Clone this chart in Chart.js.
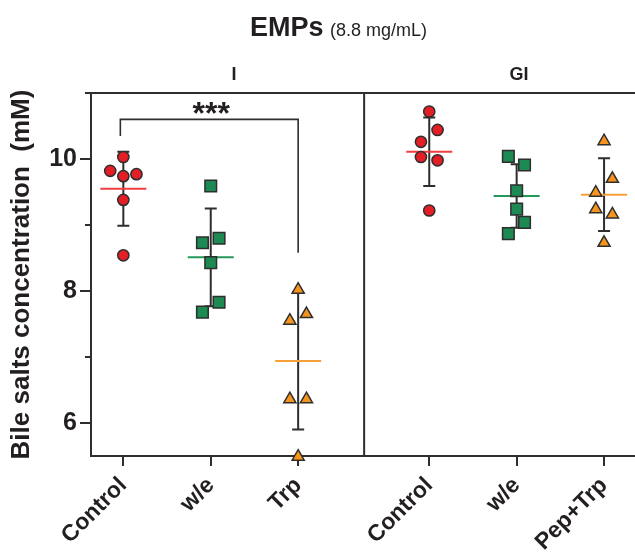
<!DOCTYPE html>
<html>
<head>
<meta charset="utf-8">
<script src="https://cdn.jsdelivr.net/npm/chart.js@4.4.1/dist/chart.umd.min.js"></script>
<style>
  html, body { margin: 0; padding: 0; background: #fff; }
  canvas { display: block; }
</style>
</head>
<body>
<canvas id="emp" width="635" height="554"></canvas>
<script>
/* ── data ─────────────────────────────────────────────── */
const groupLabels = ['Control', 'w/e', 'Trp', 'Control', 'w/e', 'Pep+Trp'];
const groupPos    = [0, 1, 2, 3.5, 4.5, 5.5];
const sections    = ['I', 'GI'];

// bile salts, mM — one value per replicate
const iControl  = [10.03, 9.82, 9.74, 9.77, 9.38, 8.54];
const iWe       = [9.59, 8.80, 8.73, 8.43, 7.83, 7.68];
const iTrp      = [8.02, 7.55, 7.65, 6.36, 6.36, 5.49];
const giControl = [10.72, 10.44, 10.26, 10.03, 9.98, 9.22];
const giWe      = [10.04, 9.91, 9.52, 9.24, 9.04, 8.87];
const giPepTrp  = [10.27, 9.70, 9.49, 9.24, 9.16, 8.73];

// mean and SD bars
const means = [9.55, 8.51, 6.94, 10.11, 9.44, 9.46];
const sds   = [0.56, 0.74, 1.04, 0.52, 0.48, 0.55];

// horizontal spread of the replicates (category units)
const jitIControl  = [0, -0.15, 0, 0.15, 0, 0];
const jitIWe       = [0, 0.095, -0.095, 0, 0.095, -0.095];
const jitITrp      = [0, -0.095, 0.095, -0.095, 0.095, 0];
const jitGIControl = [0, 0.095, -0.095, -0.095, 0.095, 0];
const jitGIWe      = [-0.095, 0.09, 0, 0, 0.09, -0.095];
const jitGIPepTrp  = [0, 0.095, -0.095, -0.095, 0.095, 0];

const yTicks  = [6, 7, 8, 9, 10, 11];
const yMajors = [6, 8, 10];

/* ── styling ──────────────────────────────────────────── */
const INK  = '#2e2e2e';
const FONT = '"Liberation Sans", Arial, Helvetica, sans-serif';
const RED = '#e41e25', GREEN = '#1c8a52', ORANGE = '#f7941d';
const meanColors = ['#ef3e3e', '#25985c', '#f7a03a', '#ef3e3e', '#25985c', '#f7a03a'];
const DIVIDER = 2.755;

function pts(vals, jit, i) {
  return vals.map((v, k) => ({ x: groupPos[i] + jit[k], y: v }));
}

function series(vals, jit, i, style, color, r) {
  return {
    data: pts(vals, jit, i), pointStyle: style, pointRadius: r,
    backgroundColor: color, borderColor: INK, borderWidth: 1.5,
    showLine: false, clip: false,
  };
}

const datasets = [
  series(iControl,  jitIControl,  0, 'circle',   RED,    5.6),
  series(iWe,       jitIWe,       1, 'rect',     GREEN,  8.2),
  series(iTrp,      jitITrp,      2, 'triangle', ORANGE, 7.0),
  series(giControl, jitGIControl, 3, 'circle',   RED,    5.6),
  series(giWe,      jitGIWe,      4, 'rect',     GREEN,  8.2),
  series(giPepTrp,  jitGIPepTrp,  5, 'triangle', ORANGE, 7.0),
];

/* ── extras: frame, minor ticks, SD bars, means, titles, significance ── */
const decor = {
  id: 'decor',
  beforeDatasetsDraw(chart) {
    const { ctx, chartArea: a, scales: { x, y } } = chart;
    ctx.save();
    ctx.strokeStyle = INK; ctx.lineWidth = 2; ctx.lineCap = 'butt';
    ctx.beginPath();
    ctx.moveTo(a.left - 1, a.top); ctx.lineTo(chart.width, a.top);
    ctx.moveTo(a.right, a.bottom); ctx.lineTo(chart.width, a.bottom);
    const dx = x.getPixelForValue(DIVIDER);
    ctx.moveTo(dx, a.top); ctx.lineTo(dx, a.bottom);
    yTicks.forEach(v => {
      const py = y.getPixelForValue(v);
      const len = yMajors.includes(v) ? 11 : 6;
      ctx.moveTo(a.left - len, py); ctx.lineTo(a.left, py);
    });
    // SD bars
    groupPos.forEach((p, i) => {
      const px = x.getPixelForValue(p);
      const t = y.getPixelForValue(means[i] + sds[i]);
      const b = y.getPixelForValue(means[i] - sds[i]);
      ctx.moveTo(px, t); ctx.lineTo(px, b);
      ctx.moveTo(px - 6, t); ctx.lineTo(px + 6, t);
      ctx.moveTo(px - 6, b); ctx.lineTo(px + 6, b);
    });
    ctx.stroke();
    // mean lines
    groupPos.forEach((p, i) => {
      const px = x.getPixelForValue(p);
      const py = y.getPixelForValue(means[i]);
      ctx.beginPath();
      ctx.strokeStyle = meanColors[i];
      ctx.moveTo(px - 23, py); ctx.lineTo(px + 23, py);
      ctx.stroke();
    });
    ctx.restore();
  },
  afterDraw(chart) {
    const { ctx, scales: { x, y } } = chart;
    ctx.save();
    ctx.fillStyle = '#231f20';
    ctx.textBaseline = 'alphabetic';
    ctx.textAlign = 'left';
    ctx.font = `bold 27px ${FONT}`;
    ctx.fillText('EMPs', 250, 36);
    ctx.font = `18px ${FONT}`;
    ctx.fillText('(8.8 mg/mL)', 330, 36);
    ctx.textAlign = 'center';
    ctx.font = `bold 18px ${FONT}`;
    ctx.fillText(sections[0], 234, 80);
    ctx.fillText(sections[1], 519, 80);

    // significance bracket Control vs Trp
    const x0 = x.getPixelForValue(groupPos[0]) - 3;
    const x1 = x.getPixelForValue(groupPos[2]);
    const yb = y.getPixelForValue(10.6);
    ctx.strokeStyle = INK; ctx.lineWidth = 1.6;
    ctx.beginPath();
    ctx.moveTo(x0, y.getPixelForValue(10.35)); ctx.lineTo(x0, yb);
    ctx.lineTo(x1, yb); ctx.lineTo(x1, y.getPixelForValue(8.58));
    ctx.stroke();
    ctx.font = `bold 32px ${FONT}`;
    ctx.fillText('***', (x0 + x1) / 2 + 2, yb + 5);
    ctx.restore();
  },
};

new Chart(document.getElementById('emp'), {
  type: 'scatter',
  data: { datasets },
  plugins: [decor],
  options: {
    responsive: false,
    animation: false,
    devicePixelRatio: 1,
    events: [],
    layout: { padding: { top: 93, left: 0, right: 0, bottom: 0 } },
    plugins: { legend: { display: false }, tooltip: { enabled: false } },
    scales: {
      x: {
        // right edge of the plot sits ~10px inside the canvas, so the range is trimmed to keep the spacing
        type: 'linear', min: -0.37, max: 5.743,
        afterFit(s) { s.height = 98; s.paddingLeft = 0; s.paddingRight = 0; },
        afterBuildTicks(s) { s.ticks = groupPos.map(v => ({ value: v })); },
        border: { display: true, color: INK, width: 2 },
        grid: { display: true, drawOnChartArea: false, drawTicks: true, tickLength: 10, color: INK, lineWidth: 2 },
        ticks: {
          autoSkip: false, minRotation: 45, maxRotation: 45, padding: 6,
          color: '#231f20', font: { family: FONT, size: 23, weight: 'bold' },
          callback: v => groupLabels[groupPos.indexOf(v)] ?? '',
        },
      },
      y: {
        min: 5.5, max: 11,
        afterFit(s) { s.width = 91; s.paddingTop = 0; s.paddingBottom = 0; },
        afterBuildTicks(s) { s.ticks = yTicks.map(v => ({ value: v })); },
        border: { display: true, color: INK, width: 2 },
        grid: { display: true, drawOnChartArea: false, drawTicks: true, tickLength: 11, color: 'rgba(0,0,0,0)' },
        ticks: {
          padding: 3, color: '#231f20', font: { family: FONT, size: 25, weight: 'bold' },
          callback: v => yMajors.includes(v) ? String(v) : '',
        },
        title: {
          display: true, text: 'Bile salts concentration  (mM)', color: '#231f20',
          font: { family: FONT, size: 26, weight: 'bold' }, padding: { top: 6, bottom: 0 },
        },
      },
    },
  },
});
</script>
</body>
</html>
